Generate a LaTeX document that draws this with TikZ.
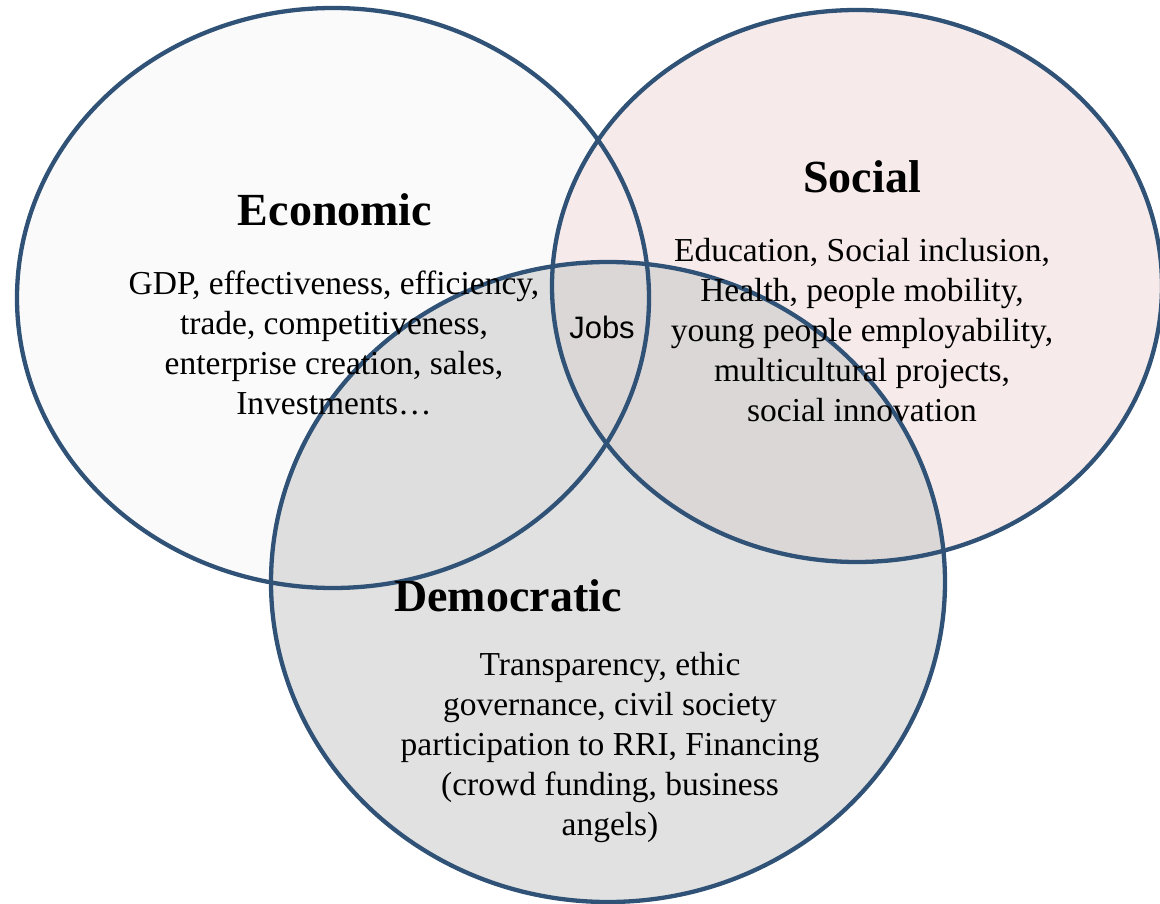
\documentclass[tikz,border=0pt]{standalone}
\usepackage{fontspec}
\setmainfont{Liberation Serif}
\newfontfamily\jobsfont{Liberation Sans}
\definecolor{ringblue}{RGB}{47,82,118}
\definecolor{econfill}{RGB}{250,250,250}
\definecolor{socfill}{RGB}{246,235,234}
\definecolor{demfill}{RGB}{200,200,200}

\begin{document}
\begin{tikzpicture}[x=1pt, y=-1pt,
    ring/.style={draw=ringblue, line width=4.3pt},
    head/.style={font=\fontsize{46}{50}\selectfont\bfseries},
    body/.style={align=center, font=\fontsize{33.5}{40}\selectfont}]
    \useasboundingbox (0,0) rectangle (1160,904);
    % fills first
    \fill[econfill] (333,298) ellipse [x radius=316pt, y radius=290pt];
    \fill[socfill] (857,286) ellipse [x radius=305pt, y radius=276pt];
    \fill[demfill, fill opacity=0.55] (608,582) ellipse [x radius=337pt, y radius=320pt];
    % outlines on top
    \draw[ring] (333,298) ellipse [x radius=316pt, y radius=290pt];
    \draw[ring] (857,286) ellipse [x radius=305pt, y radius=276pt];
    \draw[ring] (608,582) ellipse [x radius=337pt, y radius=320pt];
    % labels
    \node[head] (econ) at (335,210) {Economic};
    \node[body] (econtxt) at (334,343) {GDP, effectiveness, efficiency,\\
        trade, competitiveness,\\ enterprise creation, sales,\\ Investments\ldots};
    \node[head] (soc) at (862,177) {Social};
    \node[body] (soctxt) at (862,330) {Education, Social inclusion,\\
        Health, people mobility,\\ young people employability,\\
        multicultural projects,\\ social innovation};
    \node[head] (dem) at (508,596) {Democratic};
    \node[body] (demtxt) at (610,747) {Transparency, ethic\\
        governance, civil society\\ participation to RRI, Financing\\
        (crowd funding, business\\ angels)};
    \node[font=\jobsfont\fontsize{31}{34}\selectfont] (jobs) at (602,327) {Jobs};
\end{tikzpicture}
\end{document}
